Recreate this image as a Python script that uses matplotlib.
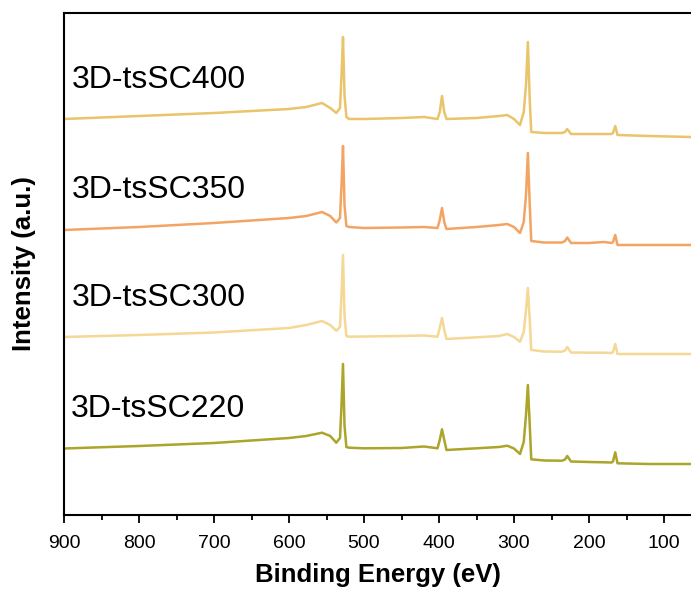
import numpy as np
import matplotlib.pyplot as plt
from matplotlib.ticker import MultipleLocator

plt.rcParams['font.family'] = ['Liberation Sans', 'DejaVu Sans']

# binding energy (eV) shared by all survey spectra (key points)
energy = [900, 800, 700, 600, 577, 556, 545, 537, 532, 530,
          528, 526, 523.5, 520, 500, 450, 420, 402, 399, 396,
          393, 390, 350, 320, 309, 300, 292, 287, 284, 281.5,
          279, 277, 260, 236, 232, 229, 224, 200, 180, 170,
          168, 165, 162, 120, 64]

# intensities (a.u., already stacked)
int_400 = [396, 399, 402, 406, 408, 412, 407, 402, 407, 440,
           478, 420, 398, 396, 396, 397, 398, 396, 403, 419,
           403, 396, 397, 399, 400, 396, 390, 403, 430, 473,
           415, 383, 382, 382, 383, 386, 381, 381, 381, 381,
           382, 389, 380, 379, 378]
int_350 = [285, 288, 292, 297, 299, 303, 299, 292.5, 297, 330,
           369, 310, 289, 288, 287, 287.5, 288, 287, 295, 307,
           293, 286, 288, 290, 291, 288, 282, 293, 320, 362,
           310, 274, 272.5, 272.5, 274, 277.5, 272, 272, 273, 272,
           273, 280, 270, 270, 270]
int_300 = [178, 180, 182.5, 187, 190, 194, 190, 184.3, 188, 220,
           260, 200, 179, 178.3, 178.5, 179, 179.5, 178.3, 187, 197,
           185, 176, 177.7, 179, 181, 178, 173.3, 183, 205, 227,
           195, 165, 163.5, 163.3, 164.5, 168, 162.5, 162.3, 162.3, 162,
           163, 171, 161, 161, 161]
int_220 = [66.5, 69, 72, 77, 79, 82.3, 79, 72.3, 77, 110,
           151, 90, 68, 67.3, 66.7, 67, 68.5, 66.7, 75, 85.7,
           75, 65, 66.7, 68, 69.3, 66.5, 61, 73, 100, 130,
           90, 55.7, 54.5, 54.3, 55.5, 59, 53.5, 53, 52.7, 52.5,
           53.5, 62.7, 51.7, 51, 51]

labels = ['3D-tsSC400', '3D-tsSC350', '3D-tsSC300', '3D-tsSC220']
colors = ['#E9C46A', '#F4A462', '#F5D796', '#ABA52A']
series = [int_400, int_350, int_300, int_220]
label_y = [435, 325, 217, 106]
label_x = [889, 889, 889, 891]

fig = plt.figure(figsize=(6.91, 5.95), dpi=100)
ax = fig.add_axes([64 / 691, 80 / 595, 627 / 691, 502 / 595])

for y, c, lab, ly, lx in zip(series, colors, labels, label_y, label_x):
    ax.plot(energy, y, color=c, lw=1.8)
    ax.text(lx, ly, lab, fontsize=23, ha='left', va='center')

ax.set_xlim(900, 64)
ax.set_ylim(0, 502)
ax.xaxis.set_major_locator(MultipleLocator(100))
ax.xaxis.set_minor_locator(MultipleLocator(50))
ax.tick_params(axis='x', which='major', direction='out', length=6, width=1.3,
               labelsize=14, pad=8.5)
ax.tick_params(axis='x', which='minor', direction='out', length=3.5, width=1.3)
ax.set_yticks([])
ax.spines['right'].set_visible(False)
for s in ['left', 'top', 'bottom']:
    ax.spines[s].set_linewidth(1.5)

ax.set_xlabel('Binding Energy (eV)', fontsize=18.5, fontweight='bold', labelpad=8)
ax.set_ylabel('Intensity (a.u.)', fontsize=18.5, fontweight='bold', labelpad=20)

fig.savefig('out.png', dpi=100)
